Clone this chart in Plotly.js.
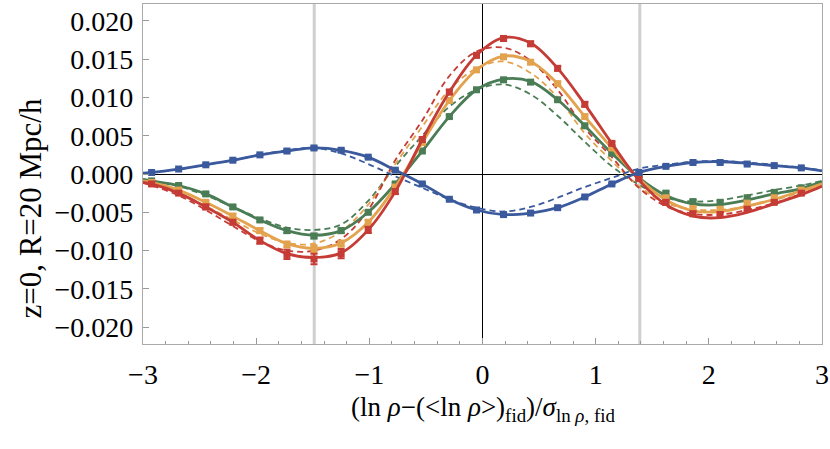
<!DOCTYPE html>
<html><head><meta charset="utf-8">
<script src="https://cdn.plot.ly/plotly-3.0.1.min.js"></script>
<style>html,body{margin:0;padding:0;background:#fff;}</style>
</head><body>
<div id="chart" style="width:830px;height:449px;"></div>
<script>
// marker x positions (normalized ln-density bins)
const xBins = [-2.924, -2.685, -2.445, -2.206, -1.967, -1.728, -1.489, -1.249, -1.010, -0.771, -0.532, -0.293, -0.053, 0.186, 0.425, 0.664, 0.904, 1.143, 1.382, 1.621, 1.860, 2.100, 2.339, 2.578, 2.817];
// curve x positions: same bins plus the plot edges
const xCurve = [-3, -2.924, -2.685, -2.445, -2.206, -1.967, -1.728, -1.489, -1.249, -1.010, -0.771, -0.532, -0.293, -0.053, 0.186, 0.425, 0.664, 0.904, 1.143, 1.382, 1.621, 1.860, 2.100, 2.339, 2.578, 2.817, 3];

// measured points (markers)
const blueY   = [0.0002, 0.00065, 0.0012, 0.0018, 0.0025, 0.0030, 0.0034, 0.0031, 0.0022, 0.0005, -0.0013, -0.0033, -0.0047, -0.0053, -0.0051, -0.0044, -0.0030, -0.0013, 0.0002, 0.0010, 0.0015, 0.0015, 0.0013, 0.0011, 0.0008];
const redY    = [-0.0013, -0.0025, -0.0043, -0.0063, -0.0087, -0.0105, -0.0111, -0.0104, -0.0073, -0.0023, 0.0045, 0.0107, 0.0155, 0.0177, 0.0170, 0.0138, 0.0091, 0.0040, -0.0006, -0.0037, -0.0052, -0.0053, -0.0046, -0.0037, -0.0025];
const orangeY = [-0.0011, -0.0021, -0.0037, -0.0055, -0.0074, -0.0092, -0.0098, -0.0091, -0.0063, -0.0017, 0.0041, 0.0096, 0.0136, 0.0153, 0.0146, 0.0118, 0.0075, 0.0034, -0.0004, -0.0031, -0.0045, -0.0046, -0.0038, -0.0031, -0.0021];
const greenY  = [-0.0009, -0.0015, -0.0026, -0.0043, -0.0060, -0.0074, -0.0081, -0.0074, -0.0050, -0.0013, 0.0030, 0.0075, 0.0110, 0.0123, 0.0120, 0.0097, 0.0063, 0.0027, -0.0004, -0.0025, -0.0036, -0.0037, -0.0031, -0.0024, -0.0018];

// error bars
const blueErr   = [0.0001, 0.0001, 0.0001, 0.0001, 0.0001, 0.0002, 0.0002, 0.0002, 0.0001, 0.0001, 0.0001, 0.0001, 0.0002, 0.0002, 0.0002, 0.0001, 0.0001, 0.0001, 0.0001, 0.0001, 0.0001, 0.0001, 0.0001, 0.0001, 0.0001];
const redErr    = [0.0002, 0.0002, 0.0003, 0.0003, 0.0004, 0.0006, 0.0007, 0.0006, 0.0004, 0.0003, 0.0003, 0.0003, 0.0003, 0.0003, 0.0003, 0.0003, 0.0003, 0.0002, 0.0002, 0.0003, 0.0003, 0.0003, 0.0002, 0.0002, 0.0002];
const orangeErr = [0.0002, 0.0002, 0.0002, 0.0003, 0.0003, 0.0004, 0.0005, 0.0004, 0.0003, 0.0002, 0.0002, 0.0002, 0.0002, 0.0002, 0.0002, 0.0002, 0.0002, 0.0002, 0.0002, 0.0002, 0.0002, 0.0002, 0.0002, 0.0002, 0.0002];
const greenErr  = [0.0001, 0.0002, 0.0002, 0.0002, 0.0002, 0.0003, 0.0003, 0.0003, 0.0002, 0.0002, 0.0002, 0.0002, 0.0002, 0.0002, 0.0002, 0.0002, 0.0002, 0.0002, 0.0001, 0.0002, 0.0002, 0.0002, 0.0002, 0.0002, 0.0001];

// solid fit curves (on xCurve)
const blueFit   = [0.0001, 0.0002, 0.00065, 0.0012, 0.0018, 0.0025, 0.0030, 0.0034, 0.0031, 0.0022, 0.0005, -0.0013, -0.0033, -0.0047, -0.0053, -0.0051, -0.0044, -0.0030, -0.0013, 0.0002, 0.0010, 0.0015, 0.0016, 0.0014, 0.0011, 0.0008, 0.0004];
const redFit    = [-0.0011, -0.0013, -0.0025, -0.0043, -0.0063, -0.0087, -0.0104, -0.0109, -0.0103, -0.0073, -0.0023, 0.0045, 0.0107, 0.0155, 0.0178, 0.0171, 0.0138, 0.0091, 0.0040, -0.0008, -0.0040, -0.0055, -0.0057, -0.0050, -0.0039, -0.0027, -0.0016];
const orangeFit = [-0.0009, -0.0011, -0.0021, -0.0037, -0.0055, -0.0074, -0.0091, -0.0097, -0.0090, -0.0063, -0.0017, 0.0041, 0.0096, 0.0136, 0.0154, 0.0147, 0.0118, 0.0075, 0.0034, -0.0006, -0.0034, -0.0048, -0.0049, -0.0042, -0.0033, -0.0022, -0.0013];
const greenFit  = [-0.0007, -0.0009, -0.0015, -0.0026, -0.0043, -0.0060, -0.0074, -0.0080, -0.0074, -0.0050, -0.0013, 0.0030, 0.0075, 0.0110, 0.0124, 0.0121, 0.0097, 0.0063, 0.0027, -0.0005, -0.0028, -0.0039, -0.0040, -0.0034, -0.0026, -0.0019, -0.0010];

// dashed prediction curves (on xCurve)
const blueDash   = [0.0001, 0.0002, 0.0006, 0.0012, 0.0018, 0.0025, 0.0031, 0.0034, 0.0027, 0.0013, -0.0003, -0.0018, -0.0033, -0.0044, -0.0049, -0.0043, -0.0031, -0.0017, -0.0005, 0.0007, 0.0012, 0.0016, 0.0017, 0.0015, 0.0012, 0.0008, 0.0005];
const redDash    = [-0.0012, -0.0015, -0.0028, -0.0047, -0.0068, -0.0088, -0.0100, -0.0100, -0.0085, -0.0047, 0.0018, 0.0070, 0.0128, 0.0160, 0.0165, 0.0148, 0.0110, 0.0060, 0.0022, -0.0018, -0.0042, -0.0052, -0.0053, -0.0047, -0.0038, -0.0026, -0.0017];
const orangeDash = [-0.0010, -0.0013, -0.0025, -0.0042, -0.0060, -0.0078, -0.0090, -0.0091, -0.0075, -0.0040, 0.0013, 0.0062, 0.0110, 0.0138, 0.0147, 0.0132, 0.0100, 0.0053, 0.0017, -0.0016, -0.0038, -0.0046, -0.0047, -0.0042, -0.0034, -0.0024, -0.0015];
const greenDash  = [-0.0007, -0.0009, -0.0016, -0.0028, -0.0043, -0.0058, -0.0070, -0.0073, -0.0066, -0.0035, 0.0010, 0.0050, 0.0088, 0.0110, 0.0117, 0.0104, 0.0076, 0.0042, 0.0010, -0.0014, -0.0031, -0.0036, -0.0034, -0.0028, -0.0021, -0.0015, -0.0009];

const xTicks = [-3, -2, -1, 0, 1, 2, 3];
const xTickText = ['\u22123', '\u22122', '\u22121', '0', '1', '2', '3'];
const yTicks = [-0.020, -0.015, -0.010, -0.005, 0.000, 0.005, 0.010, 0.015, 0.020];
const yTickText = ['\u22120.020', '\u22120.015', '\u22120.010', '\u22120.005', '0.000', '0.005', '0.010', '0.015', '0.020'];
const vLines = [-1.487, 1.39];

const COL = {blue: '#3b5a9d', red: '#c53b35', orange: '#e2a24e', green: '#4a7c55'};
const series = [
  {c: COL.green, y: greenY, e: greenErr, fit: greenFit, dash: greenDash},
  {c: COL.orange, y: orangeY, e: orangeErr, fit: orangeFit, dash: orangeDash},
  {c: COL.red, y: redY, e: redErr, fit: redFit, dash: redDash},
  {c: COL.blue, y: blueY, e: blueErr, fit: blueFit, dash: blueDash}
];

const traces = [];
series.forEach(s => {
  traces.push({x: xCurve, y: s.dash, mode: 'lines', line: {color: s.c, width: 1.8, dash: '6px,4px', shape: 'spline', smoothing: 1}, hoverinfo: 'skip', showlegend: false});
});
series.forEach(s => {
  traces.push({x: xCurve, y: s.fit, mode: 'lines', line: {color: s.c, width: 2.8, shape: 'spline', smoothing: 1}, hoverinfo: 'skip', showlegend: false});
  traces.push({x: xBins, y: s.y, mode: 'markers', marker: {color: s.c, size: 7, symbol: 'square'},
    error_y: {type: 'data', array: s.e, visible: true, color: s.c, thickness: 2, width: 3.5}, showlegend: false});
});

const FAM = 'Liberation Serif, Times New Roman, serif';
const tf = {family: FAM, size: 28, color: '#000'};
const layout = {
  width: 830, height: 449,
  margin: {l: 143, r: 8, t: 4, b: 105},
  paper_bgcolor: '#fff', plot_bgcolor: '#fff',
  showlegend: false,
  xaxis: {range: [-3, 3], tickvals: xTicks, ticktext: xTickText,
    ticks: 'inside', ticklen: 6, tickwidth: 1, tickcolor: '#999', showline: true, linecolor: '#aaa', linewidth: 1.2, mirror: true,
    showgrid: false, zeroline: true, zerolinecolor: '#000', zerolinewidth: 1, tickfont: tf, ticklabelstandoff: 5,
    minor: {dtick: 0.2, ticks: 'inside', ticklen: 3, tickcolor: '#999', showgrid: false}},
  yaxis: {range: [-0.0222, 0.0222], tickvals: yTicks, ticktext: yTickText,
    ticks: 'inside', ticklen: 6, tickwidth: 1, tickcolor: '#999', showline: true, linecolor: '#aaa', linewidth: 1.2, mirror: true,
    showgrid: false, zeroline: true, zerolinecolor: '#000', zerolinewidth: 1, tickfont: tf, ticklabelstandoff: 3},
  shapes: vLines.map(v => ({type: 'line', xref: 'x', yref: 'paper', x0: v, x1: v, y0: 0, y1: 1, layer: 'below', line: {color: '#cfcfcf', width: 3}})),
  annotations: [
    {xref: 'paper', yref: 'paper', x: -0.167, y: 0.40, xanchor: 'center', yanchor: 'middle', textangle: -90, showarrow: false,
     text: 'z=0, R=20 Mpc/h', font: {family: FAM, size: 31, color: '#000'}},
    {xref: 'paper', yref: 'paper', x: 0.5, y: -0.19, xanchor: 'center', yanchor: 'middle', showarrow: false,
     text: '(ln <i>\u03C1</i>\u2212(&lt;ln <i>\u03C1</i>&gt;)<sub>fid</sub>)/<i>\u03C3</i><sub>ln <i>\u03C1</i>, fid</sub>', font: {family: FAM, size: 27, color: '#000'}}
  ]
};
Plotly.newPlot('chart', traces, layout, {displayModeBar: false, staticPlot: true});
</script>
</body></html>
